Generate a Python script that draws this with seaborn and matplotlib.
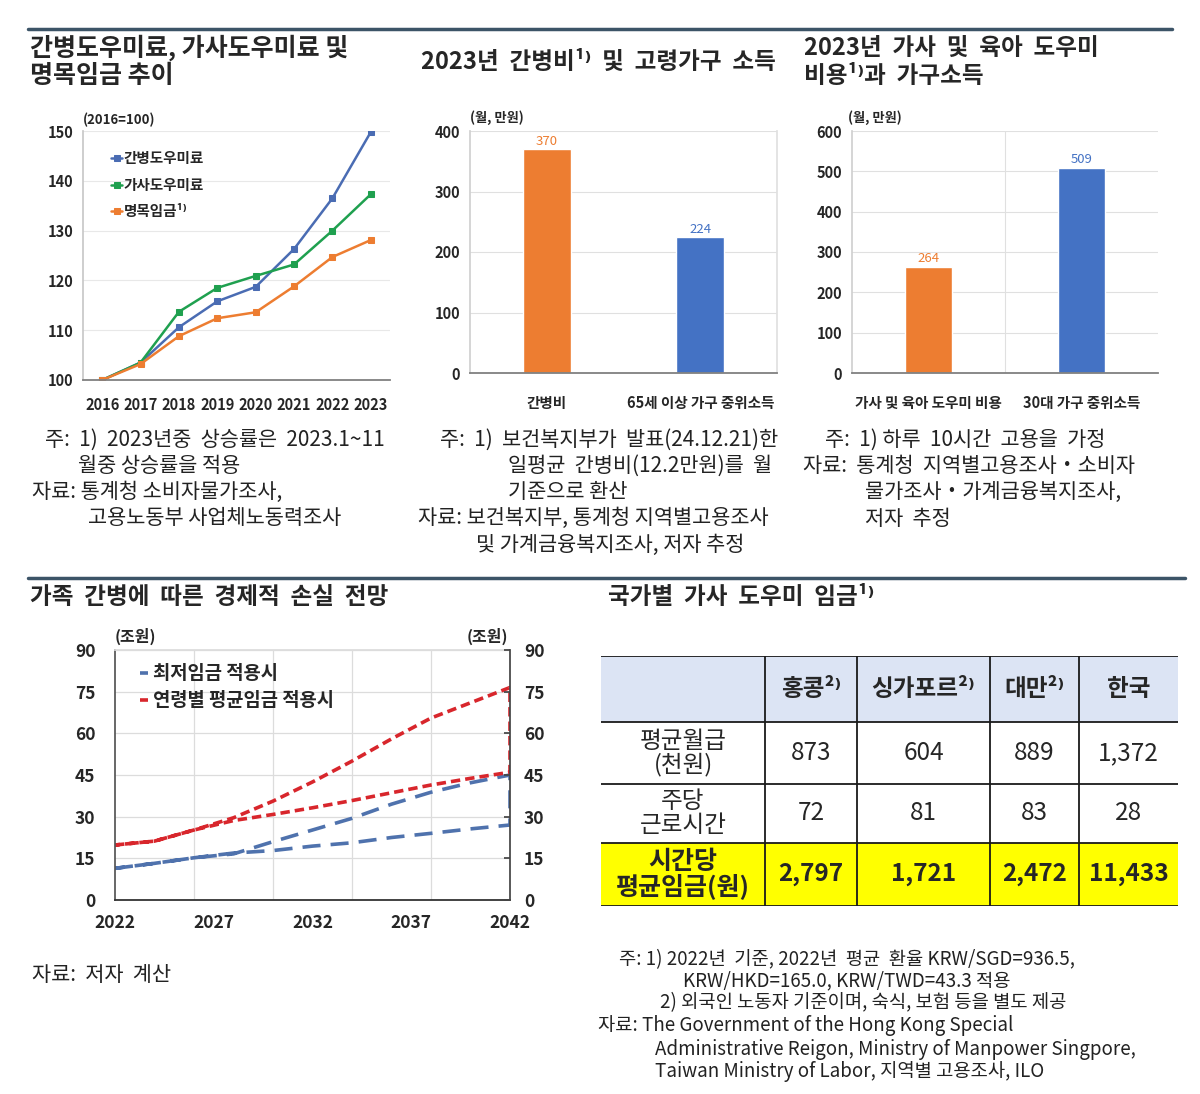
import numpy as np
import pandas as pd
import matplotlib
matplotlib.use('Agg')
import matplotlib.pyplot as plt
import seaborn as sns
from matplotlib.lines import Line2D

# chart 1: index 2016=100
years = [2016, 2017, 2018, 2019, 2020, 2021, 2022, 2023]
care_fee = [100, 103.5, 110.6, 115.8, 118.7, 126.3, 136.5, 149.8]
house_fee = [100, 103.5, 113.7, 118.5, 120.9, 123.2, 130.0, 137.3]
nominal_wage = [100, 103.2, 108.8, 112.4, 113.6, 118.8, 124.7, 128.1]

# chart 2 / chart 3: monthly, 10k won
cats2 = ['간병비', '65세 이상 가구 중위소득']
vals2 = [370, 224]
cats3 = ['가사 및 육아 도우미 비용', '30대 가구 중위소득']
vals3 = [264, 509]

# chart 4: economic loss projection (trillion won)
proj_years = [2022, 2024, 2026, 2028, 2030, 2032, 2034, 2036, 2038, 2040, 2042]
min_upper = [11.4, 13.2, 15.2, 16.6, 21.0, 25.2, 29.4, 34.5, 38.8, 42.2, 45.0]
min_lower = [11.4, 13.2, 15.2, 16.9, 17.8, 19.4, 20.6, 22.5, 24.0, 25.6, 27.0]
avg_upper = [19.8, 21.2, 25.2, 29.6, 35.6, 42.5, 50.0, 58.0, 65.5, 71.0, 76.5]
avg_lower = [19.8, 21.2, 25.2, 28.6, 30.8, 33.2, 35.8, 38.6, 41.4, 43.8, 46.0]

# table
countries = ['홍콩²⁾', '싱가포르²⁾', '대만²⁾', '한국']
row_labels = ['평균월급\n(천원)', '주당\n근로시간', '시간당\n평균임금(원)']
monthly_wage = [873, 604, 889, 1372]
weekly_hours = [72, 81, 83, 28]
hourly_wage = [2797, 1721, 2472, 11433]

BLUE1, GREEN1, ORANGE1 = '#4a6cb3', '#1fa04f', '#ed7d31'
BAR_O, BAR_B = '#ed7d31', '#4472c4'
L_BLUE, L_RED = '#4f72ad', '#d8262c'
RULE = '#3c5467'

sns.set_theme(style='white')
KR = ['Noto Sans CJK KR', 'DejaVu Sans']
NOTE = ['Liberation Sans Narrow', 'Noto Sans CJK KR', 'DejaVu Sans']
plt.rcParams['font.family'] = KR
plt.rcParams['axes.unicode_minus'] = False

W, H = 1200, 1094
fig = plt.figure(figsize=(W / 100, H / 100), dpi=100)
fig.patch.set_facecolor('white')


def box(l, t, r, b):
    return fig.add_axes([l / W, 1 - b / H, (r - l) / W, (b - t) / H])


def ftext(x, y, s, **kw):
    return fig.text(x / W, 1 - y / H, s, **kw)


# rules
fig.add_artist(Line2D([28 / W, 1172 / W], [1 - 29 / H] * 2, color=RULE, lw=2.5))
fig.add_artist(Line2D([28 / W, 1185 / W], [1 - 578 / H] * 2, color=RULE, lw=2.5))

# ---------------- chart 1
ax1 = box(83, 131, 390, 380)
for name, vals, col in [('간병도우미료', care_fee, BLUE1),
                        ('가사도우미료', house_fee, GREEN1),
                        ('명목임금¹⁾', nominal_wage, ORANGE1)]:
    sns.lineplot(x=years, y=vals, color=col, marker='s', markersize=4,
                 markeredgecolor=col, lw=1.8, ax=ax1, label=name)
ax1.set_xlim(2015.5, 2023.5)
ax1.set_ylim(100, 150)
ax1.set_yticks(range(100, 151, 10))
ax1.set_xticks(years)
ax1.yaxis.grid(True, color='#e8e8e8', lw=0.8)
ax1.set_axisbelow(True)
for s in ['top', 'right']:
    ax1.spines[s].set_visible(False)
ax1.spines['left'].set_color('#c8c8c8')
ax1.spines['bottom'].set_color('#808080')
ax1.spines['bottom'].set_linewidth(1.3)
ax1.tick_params(length=0, labelsize=10.5, pad=7)
for lab in ax1.get_xticklabels() + ax1.get_yticklabels():
    lab.set_fontweight('bold')
ax1.tick_params(axis='x', pad=12)
ax1.legend(loc='upper left', bbox_to_anchor=(0.05, 0.975), frameon=False,
           handlelength=0.7, handletextpad=0.15, labelspacing=0.72,
           prop={'family': KR, 'weight': 'bold', 'size': 10.5})
ftext(83, 120, '(2016=100)', fontsize=9.5, fontweight='bold', va='center')
ftext(30, 48, '간병도우미료, 가사도우미료 및', fontsize=18, fontweight='bold', va='center')
ftext(30, 76, '명목임금 추이', fontsize=18, fontweight='bold', va='center')


# ---------------- bar charts
def bar_chart(ax, cats, vals, ymax, mid_line):
    sns.barplot(x=cats, y=vals, hue=cats, palette=[BAR_O, BAR_B], width=0.31,
                saturation=1, legend=False, ax=ax)
    ax.set_xlim(-0.5, 1.5)
    ax.set_ylim(0, ymax)
    ax.set_yticks(range(0, ymax + 1, 100))
    ax.yaxis.grid(True, color='#e0e0e0', lw=0.8)
    ax.set_axisbelow(True)
    for cont, col, v in zip(ax.containers, [BAR_O, BAR_B], vals):
        ax.bar_label(cont, labels=[str(v)], color=col, fontsize=9.5, padding=1)
    ax.spines['top'].set_visible(False)
    ax.spines['right'].set_color('#e0e0e0')
    ax.spines['left'].set_color('#d0d0d0')
    ax.spines['bottom'].set_color('#808080')
    ax.spines['bottom'].set_linewidth(1.3)
    if mid_line:
        ax.axvline(0.5, color='#e0e0e0', lw=0.8, zorder=0)
        ax.spines['right'].set_visible(False)
    ax.tick_params(length=0, labelsize=10.5, pad=7)
    ax.tick_params(axis='x', pad=16)
    ax.set_xlabel('')
    ax.set_ylabel('')
    for lab in ax.get_xticklabels() + ax.get_yticklabels():
        lab.set_fontweight('bold')


ax2 = box(470, 131, 777, 373)
bar_chart(ax2, cats2, vals2, 400, False)
ftext(470, 118, '(월, 만원)', fontsize=9.5, fontweight='bold', va='center')
ftext(598, 62, '2023년  간병비¹⁾  및  고령가구  소득', fontsize=17, fontweight='bold',
      va='center', ha='center')

ax3 = box(852, 131, 1158, 373)
bar_chart(ax3, cats3, vals3, 600, True)
ftext(848, 118, '(월, 만원)', fontsize=9.5, fontweight='bold', va='center')
ftext(804, 48, '2023년  가사  및  육아  도우미', fontsize=17, fontweight='bold', va='center')
ftext(804, 76, '비용¹⁾과  가구소득', fontsize=17, fontweight='bold', va='center')

# ---------------- notes (top row)
nk = dict(fontsize=15, family=NOTE, va='center', color='#222222')
ftext(45, 440, '주:  1)  2023년중  상승률은  2023.1~11', **nk)
ftext(78, 466, '월중 상승률을 적용', **nk)
ftext(32, 492, '자료: 통계청 소비자물가조사,', **nk)
ftext(88, 518, '고용노동부 사업체노동력조사', **nk)

ftext(440, 440, '주:  1)  보건복지부가  발표(24.12.21)한', **nk)
ftext(508, 466, '일평균  간병비(12.2만원)를  월', **nk)
ftext(508, 492, '기준으로 환산', **nk)
ftext(418, 518, '자료: 보건복지부, 통계청 지역별고용조사', **nk)
ftext(476, 545, '및 가계금융복지조사, 저자 추정', **nk)

ftext(825, 440, '주:  1) 하루  10시간  고용을  가정', **nk)
ftext(803, 466, '자료:  통계청  지역별고용조사・소비자', **nk)
ftext(865, 492, '물가조사・가계금융복지조사,', **nk)
ftext(865, 519, '저자  추정', **nk)

# ---------------- chart 4
ax4 = box(115, 650, 510, 900)
for up, lo, col, dash in [(min_upper, min_lower, L_BLUE, (5, 2.8)),
                          (avg_upper, avg_lower, L_RED, (2.6, 1.4))]:
    xs = proj_years + proj_years[::-1]
    ys = up + lo[::-1]
    sns.lineplot(x=xs, y=ys, sort=False, estimator=None, color=col, lw=2.6, ax=ax4)
    ax4.lines[-1].set_dashes(dash)
ax4.set_xlim(2022, 2042)
ax4.set_ylim(0, 90)
ax4.set_yticks(range(0, 91, 15))
ax4.set_xticks([2022, 2027, 2032, 2037, 2042])
ax4.set_xticks([2026, 2030, 2034, 2038], minor=True)
ax4.grid(False)
ax4.yaxis.grid(True, color='#dcdcdc', lw=0.9)
ax4.xaxis.grid(True, which='minor', color='#dcdcdc', lw=0.9)
ax4.set_axisbelow(True)
ax4.spines['top'].set_color('#dcdcdc')
ax4.spines['left'].set_color('#555555')
ax4.spines['bottom'].set_color('#333333')
ax4.spines['bottom'].set_linewidth(1.3)
ax4.spines['right'].set_visible(False)
ax4.tick_params(which='both', length=0, labelsize=12.5, pad=14)
ax4.tick_params(axis='x', pad=10)
for lab in ax4.get_xticklabels() + ax4.get_yticklabels():
    lab.set_fontweight('bold')
ax4r = ax4.twinx()
ax4r.set_ylim(0, 90)
ax4r.set_yticks(range(0, 91, 15))
ax4r.grid(False)
for s in ['top', 'left', 'bottom']:
    ax4r.spines[s].set_visible(False)
ax4r.spines['right'].set_color('#444444')
ax4r.tick_params(axis='y', direction='in', length=4, color='#444444', labelsize=12.5, pad=10)
for lab in ax4r.get_yticklabels():
    lab.set_fontweight('bold')
handles = [Line2D([], [], color=L_BLUE, lw=2.6, dashes=(5, 2.8)),
           Line2D([], [], color=L_RED, lw=2.6, dashes=(2.6, 1.4))]
ax4.legend(handles, ['최저임금 적용시', '연령별 평균임금 적용시'], loc='upper left',
           bbox_to_anchor=(0.02, 1.01), frameon=False, handlelength=0.45,
           handletextpad=0.25, labelspacing=0.42,
           prop={'family': KR, 'weight': 'bold', 'size': 13.5})
ftext(135, 636, '(조원)', fontsize=11.5, fontweight='bold', va='center', ha='center')
ftext(487, 636, '(조원)', fontsize=11.5, fontweight='bold', va='center', ha='center')
ftext(30, 597, '가족  간병에  따른  경제적  손실  전망', fontsize=17, fontweight='bold', va='center')
ftext(32, 975, '자료:  저자  계산', **nk)

# ---------------- table
ftext(608, 597, '국가별  가사  도우미  임금¹⁾', fontsize=17, fontweight='bold', va='center')
axT = box(601, 656, 1178, 906)
axT.set_xlim(0, 1)
axT.set_ylim(0, 1)
axT.axis('off')
cell_text = [[''] + countries,
             [row_labels[0]] + [f'{v:,}' for v in monthly_wage],
             [row_labels[1]] + [f'{v:,}' for v in weekly_hours],
             [row_labels[2]] + [f'{v:,}' for v in hourly_wage]]
tbl = axT.table(cellText=cell_text, cellLoc='center', bbox=[0, 0, 1, 1])
tbl.auto_set_font_size(False)
col_w = [164, 92, 133, 89, 99]
row_h = [66, 62, 59, 63]
for (r, c), cell in tbl.get_celld().items():
    cell.set_width(col_w[c])
    cell.set_height(row_h[r])
    cell.set_linewidth(0)
    txt = cell.get_text()
    txt.set_fontfamily(NOTE if (r > 0 and c > 0) else KR)
    txt.set_linespacing(1.0)
    if r == 0:
        cell.set_facecolor('#dce4f4')
        txt.set_fontsize(17)
        txt.set_fontweight('bold')
    elif r == 3:
        cell.set_facecolor('#ffff00')
        txt.set_fontsize(17.5 if c > 0 else 18)
        txt.set_fontweight('bold')
    else:
        cell.set_facecolor('white')
        txt.set_fontsize(17.5 if c > 0 else 17)
# table rules
xb = np.cumsum([0] + col_w) / sum(col_w)
yb = 1 - np.cumsum([0] + row_h) / sum(row_h)
for y in yb:
    axT.axhline(y, color='#1a1a1a', lw=1.3, zorder=5)
for x in xb[1:-1]:
    axT.axvline(x, color='#1a1a1a', lw=1.3, zorder=5)

nt = dict(nk, fontsize=13.5)
ftext(619, 960, '주: 1) 2022년  기준, 2022년  평균  환율 KRW/SGD=936.5,', **nt)
ftext(683, 981, 'KRW/HKD=165.0, KRW/TWD=43.3 적용', **nt)
ftext(660, 1003, '2) 외국인 노동자 기준이며, 숙식, 보험 등을 별도 제공', **nt)
ftext(598, 1026, '자료: The Government of the Hong Kong Special', **nt)
ftext(655, 1049, 'Administrative Reigon, Ministry of Manpower Singpore,', **nt)
ftext(655, 1071, 'Taiwan Ministry of Labor, 지역별 고용조사, ILO', **nt)

fig.savefig('out.png', dpi=100, facecolor='white')
